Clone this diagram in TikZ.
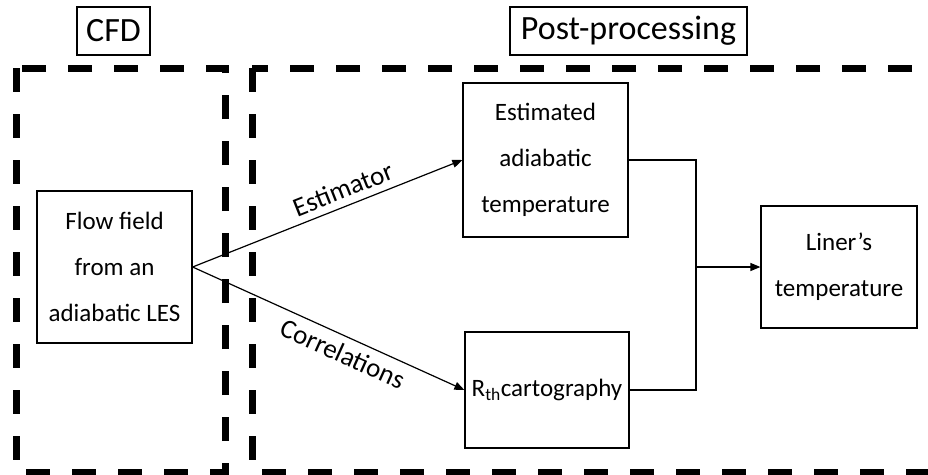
\documentclass[tikz,border=0pt]{standalone}
\usepackage{fontspec}
\setmainfont{Carlito}
\usetikzlibrary{arrows.meta,positioning}

\begin{document}
\begin{tikzpicture}[x=1pt,y=-1pt,
    procbox/.style={draw,line width=1.2pt,align=center,font=\fontsize{25}{46}\selectfont,inner sep=0pt},
    titlebox/.style={draw,line width=1.2pt,font=\fontsize{34}{40}\selectfont,inner sep=0pt,minimum height=48pt},
    phasebox/.style={line width=7pt,dash pattern=on 24pt off 22pt},
    link/.style={line width=1.2pt,-{Triangle[length=10pt,width=8pt]}},
    tag/.style={font=\fontsize{27}{30}\selectfont,sloped,inner sep=2pt}]
  \useasboundingbox (0,0) rectangle (928,474);
  \clip (0,0) rectangle (928,474);
  % phases
  \draw[phasebox] (16,68) rectangle (225,472);
  \draw[phasebox] (252,68) rectangle (960,472);
  \node[titlebox,minimum width=73pt] (cfd) at (113.5,31) {CFD};
  \node[titlebox,minimum width=237pt] (post) at (628.5,31) {Post-processing};
  % blocks
  \node[procbox,minimum width=155pt,minimum height=152pt] (flow) at (114.5,267) {Flow field\\from an\\adiabatic LES};
  \node[procbox,minimum width=165pt,minimum height=154pt] (est) at (545.5,160) {Estimated\\adiabatic\\temperature};
  \node[procbox,minimum width=164pt,minimum height=116pt] (rth) at (547,390) {R\textsubscript{th}cartography};
  \node[procbox,minimum width=156pt,minimum height=122pt] (liner) at (839,267) {Liner’s\\temperature};
  % connectors
  \draw[link] (flow.east) -- node[tag,pos=0.58,above=5pt] {Estimator} (est.west);
  \draw[link] (flow.east) -- node[tag,pos=0.58,below=5pt] {Correlations} (rth.west);
  \coordinate (join) at (696,267);
  \draw[line width=1.2pt] (est.east) -| (join) |- (rth.east);
  \draw[link] (join) -- (liner.west);
\end{tikzpicture}
\end{document}
